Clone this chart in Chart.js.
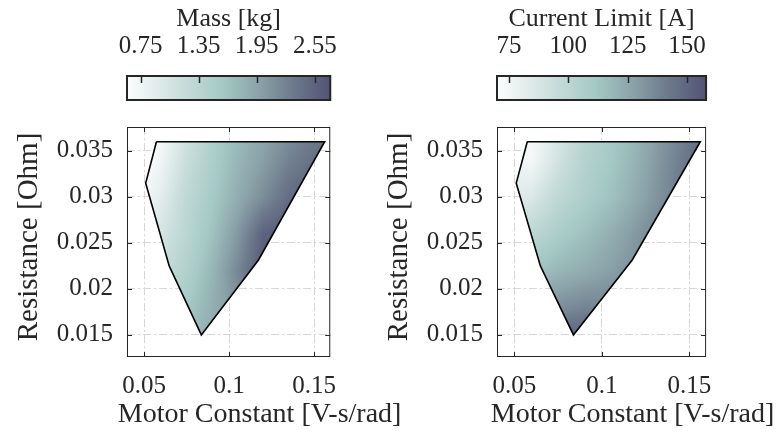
<!DOCTYPE html>
<html>
<head>
<meta charset="utf-8">
<script src="https://cdn.jsdelivr.net/npm/chart.js@4.4.1/dist/chart.umd.min.js"></script>
<style>
  html, body { margin: 0; padding: 0; background: #fff; }
  body { width: 777px; height: 442px; position: relative; overflow: hidden; }
  canvas { position: absolute; top: 0; }
  #massChart { left: 0; }
  #currentChart { left: 370px; }
</style>
</head>
<body>
<canvas id="massChart" width="407" height="442"></canvas>
<canvas id="currentChart" width="407" height="442"></canvas>
<script>
// Boundary of the feasible motor region (Kt vs. winding resistance)
const regionKt = [0.0573, 0.1562, 0.1173, 0.0837, 0.0648, 0.0510];
const regionR = [0.0360, 0.0360, 0.02315, 0.0150, 0.0225, 0.0315];

// Sample grid for the shaded fields
const gridKt = [0.045, 0.06, 0.075, 0.09, 0.105, 0.12, 0.135, 0.15, 0.165];
const gridR = [0.014, 0.018, 0.022, 0.026, 0.030, 0.034, 0.038];

// Motor mass [kg], one row per gridR value
const massField = [
  [1.30, 1.45, 1.70, 1.90, 2.10, 2.30, 2.40, 2.40, 2.40],
  [1.20, 1.35, 1.58, 1.85, 2.10, 2.40, 2.50, 2.50, 2.50],
  [1.00, 1.20, 1.45, 1.78, 2.20, 2.65, 2.70, 2.70, 2.70],
  [0.80, 1.05, 1.35, 1.66, 2.05, 2.55, 2.65, 2.70, 2.70],
  [0.60, 0.90, 1.30, 1.57, 1.87, 2.15, 2.45, 2.60, 2.70],
  [0.55, 0.75, 1.18, 1.50, 1.78, 2.00, 2.25, 2.42, 2.55],
  [0.50, 0.65, 1.05, 1.45, 1.72, 1.90, 2.10, 2.28, 2.40]
];

// Current limit [A], one row per gridR value
const currentField = [
  [145, 150, 155, 155, 152, 150, 152, 155, 158],
  [125, 128, 134, 138, 138, 140, 145, 150, 155],
  [108, 112, 119, 123, 128, 134, 142, 150, 158],
  [96, 100, 108, 115, 122, 131, 140, 150, 158],
  [82, 86, 99, 107, 114, 124, 135, 146, 155],
  [78, 74, 90, 104, 111, 121, 133, 144, 154],
  [74, 72, 86, 101, 109, 119, 131, 142, 152]
];

const ktTicks = [0.05, 0.1, 0.15];
const resTicks = [0.015, 0.02, 0.025, 0.03, 0.035];
const massTicks = [0.75, 1.35, 1.95, 2.55];
const currentTicks = [75, 100, 125, 150];
const massRange = [0.61, 2.71];
const currentRange = [70, 158];

// white -> teal -> slate colormap
const cmapPos = [0, 0.25, 0.47, 0.65, 0.82, 1];
const cmapRGB = [[252, 253, 253], [205, 224, 222], [165, 201, 197], [138, 162, 168], [108, 121, 139], [82, 83, 117]];

const TEXT = '#262626';
const SERIF = '"Liberation Serif", "DejaVu Serif", serif';

function colormap(t) {
  t = Math.min(1, Math.max(0, t));
  let k = 1;
  while (k < cmapPos.length - 1 && t > cmapPos[k]) k++;
  const f = (t - cmapPos[k - 1]) / (cmapPos[k] - cmapPos[k - 1]);
  const a = cmapRGB[k - 1], b = cmapRGB[k];
  return [a[0] + (b[0] - a[0]) * f, a[1] + (b[1] - a[1]) * f, a[2] + (b[2] - a[2]) * f];
}

function bracket(arr, v) {
  const n = arr.length - 1;
  if (v <= arr[0]) return [0, 0];
  if (v >= arr[n]) return [n - 1, 1];
  let i = 0;
  while (arr[i + 1] < v) i++;
  return [i, (v - arr[i]) / (arr[i + 1] - arr[i])];
}

function sample(field, kt, r) {
  const [i, fx] = bracket(gridKt, kt);
  const [j, fy] = bracket(gridR, r);
  const a = field[j][i] + (field[j][i + 1] - field[j][i]) * fx;
  const b = field[j + 1][i] + (field[j + 1][i + 1] - field[j + 1][i]) * fx;
  return a + (b - a) * fy;
}

function regionPath(ctx, sx, sy) {
  ctx.beginPath();
  regionKt.forEach((k, i) => {
    const px = sx.getPixelForValue(k), py = sy.getPixelForValue(regionR[i]);
    if (i === 0) ctx.moveTo(px, py); else ctx.lineTo(px, py);
  });
  ctx.closePath();
}

// Shaded field inside the region, drawn under the outline
function fieldPlugin(field, range) {
  return {
    id: 'field',
    beforeDatasetsDraw(chart) {
      const { ctx, chartArea: a, scales } = chart;
      const w = Math.ceil(a.right - a.left), h = Math.ceil(a.bottom - a.top);
      const off = document.createElement('canvas');
      off.width = w; off.height = h;
      const octx = off.getContext('2d');
      const img = octx.createImageData(w, h);
      for (let r = 0; r < h; r++) {
        const rv = scales.y.getValueForPixel(a.top + r + 0.5);
        for (let c = 0; c < w; c++) {
          const kv = scales.x.getValueForPixel(a.left + c + 0.5);
          const rgb = colormap((sample(field, kv, rv) - range[0]) / (range[1] - range[0]));
          const p = (r * w + c) * 4;
          img.data[p] = rgb[0]; img.data[p + 1] = rgb[1]; img.data[p + 2] = rgb[2]; img.data[p + 3] = 255;
        }
      }
      octx.putImageData(img, 0, 0);
      ctx.save();
      regionPath(ctx, scales.x, scales.y);
      ctx.clip();
      ctx.drawImage(off, a.left, a.top);
      ctx.restore();
    }
  };
}

// Box, inward ticks, colorbar and axis labels
function decorPlugin(cbTicks) {
  return {
    id: 'decor',
    afterDraw(chart) {
      const { ctx, chartArea: a, scales } = chart;
      const line = (x1, y1, x2, y2) => { ctx.beginPath(); ctx.moveTo(x1, y1); ctx.lineTo(x2, y2); ctx.stroke(); };
      ctx.save();
      ctx.strokeStyle = TEXT;
      ctx.lineWidth = 1;
      ctx.strokeRect(a.left + 0.5, a.top + 0.5, a.right - a.left - 1, a.bottom - a.top - 1);
      ktTicks.forEach(v => {
        const px = Math.round(scales.x.getPixelForValue(v)) + 0.5;
        line(px, a.top, px, a.top + 5);
        line(px, a.bottom, px, a.bottom - 5);
      });
      resTicks.forEach(v => {
        const py = Math.round(scales.y.getPixelForValue(v)) + 0.5;
        line(a.left, py, a.left + 5, py);
        line(a.right, py, a.right - 5, py);
      });

      // colorbar
      const cb = scales.cb;
      const top = 76, bot = 100;
      const grad = ctx.createLinearGradient(cb.left, 0, cb.right, 0);
      cmapPos.forEach((p, i) => grad.addColorStop(p, 'rgb(' + cmapRGB[i].join(',') + ')'));
      ctx.fillStyle = grad;
      ctx.fillRect(cb.left, top, cb.right - cb.left, bot - top);
      ctx.lineWidth = 2;
      ctx.strokeRect(cb.left, top, cb.right - cb.left, bot - top);
      ctx.lineWidth = 1.5;
      cbTicks.forEach(v => {
        const px = Math.round(cb.getPixelForValue(v)) + 0.5;
        line(px, top, px, top + 7);
      });

      // axis labels
      ctx.fillStyle = TEXT;
      ctx.font = '28px ' + SERIF;
      ctx.textAlign = 'center';
      ctx.textBaseline = 'alphabetic';
      ctx.fillText('Motor Constant [V-s/rad]', (a.left + a.right) / 2 + 31, 422);
      ctx.font = '29px ' + SERIF;
      ctx.textBaseline = 'middle';
      ctx.translate(29, 237);
      ctx.rotate(-Math.PI / 2);
      ctx.fillText('Resistance [Ohm]', 0, 0);
      ctx.restore();
    }
  };
}

function fixedTicks(values) {
  return scale => { scale.ticks = values.map(v => ({ value: v })); };
}

function makePanel(id, field, range, cbTicks, cbTitle) {
  const outline = regionKt.map((k, i) => ({ x: k, y: regionR[i] }));
  outline.push({ x: regionKt[0], y: regionR[0] });
  const tickFont = { family: SERIF, size: 25 };
  return new Chart(document.getElementById(id), {
    type: 'scatter',
    data: {
      datasets: [{
        data: outline,
        showLine: true,
        borderColor: '#000',
        borderWidth: 1.6,
        borderJoinStyle: 'miter',
        pointRadius: 0,
        pointHoverRadius: 0,
        fill: false
      }]
    },
    options: {
      responsive: false,
      animation: false,
      devicePixelRatio: 1,
      events: [],
      layout: { padding: { top: 0, right: 57, bottom: 0, left: 0 } },
      plugins: { legend: { display: false }, tooltip: { enabled: false } },
      scales: {
        x: {
          type: 'linear', position: 'bottom', min: 0.04, max: 0.1595,
          afterBuildTicks: fixedTicks(ktTicks),
          afterFit: s => { s.height = 85; },
          grid: { color: '#d6d6d6', lineWidth: 1, drawTicks: false },
          border: { display: false, dash: [8, 3, 2, 3] },
          ticks: { font: tickFont, color: TEXT, padding: 14, autoSkip: false, maxRotation: 0, callback: v => String(v) }
        },
        y: {
          type: 'linear', position: 'left', min: 0.0126, max: 0.0376,
          afterBuildTicks: fixedTicks(resTicks),
          afterFit: s => { s.width = 127; },
          grid: { color: '#d6d6d6', lineWidth: 1, drawTicks: false },
          border: { display: false, dash: [8, 3, 2, 3] },
          ticks: { font: tickFont, color: TEXT, padding: 14, autoSkip: false, callback: v => String(v) }
        },
        cb: {
          type: 'linear', axis: 'x', position: 'top', min: range[0], max: range[1],
          afterBuildTicks: fixedTicks(cbTicks),
          afterFit: s => { s.height = 127; },
          grid: { display: false, drawTicks: false },
          border: { display: false },
          ticks: { font: tickFont, color: TEXT, padding: 66, autoSkip: false, maxRotation: 0, callback: v => String(v) },
          title: { display: true, text: cbTitle, color: TEXT, font: { family: SERIF, size: 26 }, padding: { top: 4, bottom: 0 } }
        }
      }
    },
    plugins: [fieldPlugin(field, range), decorPlugin(cbTicks)]
  });
}

makePanel('massChart', massField, massRange, massTicks, 'Mass [kg]');
makePanel('currentChart', currentField, currentRange, currentTicks, 'Current Limit [A]');
</script>
</body>
</html>
